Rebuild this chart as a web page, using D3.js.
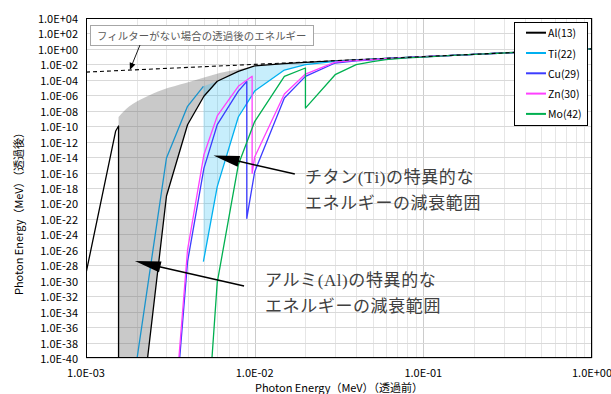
<!DOCTYPE html>
<html>
<head>
<meta charset="utf-8">
<script src="https://cdn.jsdelivr.net/npm/d3@7"></script>
<style>
body { margin: 0; background: #fff; }
</style>
</head>
<body>
<div id="graph"></div>
<script>
// tick labels (their numeric value is the tick position)
var yTickLabels = ["1.0E+04", "1.0E+02", "1.0E+00", "1.0E-02", "1.0E-04", "1.0E-06", "1.0E-08",
	"1.0E-10", "1.0E-12", "1.0E-14", "1.0E-16", "1.0E-18", "1.0E-20", "1.0E-22", "1.0E-24",
	"1.0E-26", "1.0E-28", "1.0E-30", "1.0E-32", "1.0E-34", "1.0E-36", "1.0E-38", "1.0E-40"];
var xTickLabels = ["1.0E-03", "1.0E-02", "1.0E-01", "1.0E+00"];

var names = ["Al(13)", "Ti(22)", "Cu(29)", "Zn(30)", "Mo(42)"];
var colors = ["#000000", "#00b0f0", "#3c3cff", "#ff40ff", "#00b050"];

// photon energy before (MeV) / after the filter (MeV)
var alE = [1e-3, 1.5e-3, 1.5596e-3, 1.5596e-3, 2e-3, 3e-3, 4e-3, 5e-3, 6e-3, 8e-3, 1e-2, 1.5e-2, 2e-2,
	3e-2, 4e-2, 5e-2, 6e-2, 8e-2, 1e-1, 1.5e-1, 2e-1, 3e-1, 4e-1, 5e-1, 6e-1, 8e-1, 1];
var alV = [9.1e-30, 2.4e-11, 1.05e-10, 1e-85, 1e-52, 9.1e-20, 1.55e-10, 7.4e-7, 6.5e-5, 1.26e-3, 6.3e-3, 1.26e-2, 1.82e-2,
	2.8e-2, 3.9e-2, 4.9e-2, 5.9e-2, 7.9e-2, 9.9e-2, 0.149, 0.199, 0.299, 0.399, 0.499, 0.599, 0.799, 0.999];

var tiPreE = [2e-3, 3e-3, 4e-3, 4.966e-3];
var tiPreV = [5e-41, 7.6e-15, 3.7e-8, 1.45e-5];
var tiPostE = [4.966e-3, 6e-3, 8e-3, 1e-2, 1.5e-2, 2e-2, 3e-2, 4e-2, 5e-2, 6e-2, 8e-2, 1e-1,
	1.5e-1, 2e-1, 3e-1, 4e-1, 5e-1, 6e-1, 8e-1, 1];
var tiPostV = [2.9e-28, 1.5e-18, 1.55e-9, 3.5e-6, 1.86e-3, 9.1e-3, 2.5e-2, 3.6e-2, 4.7e-2, 5.8e-2, 7.8e-2, 9.8e-2,
	0.148, 0.198, 0.298, 0.398, 0.498, 0.598, 0.798, 0.998];

var cuE = [3e-3, 4e-3, 5e-3, 6e-3, 8e-3, 8.979e-3, 8.979e-3, 1e-2, 1.5e-2, 2e-2, 3e-2, 4e-2, 5e-2, 6e-2, 8e-2, 1e-1,
	1.5e-1, 2e-1, 3e-1, 4e-1, 5e-1, 6e-1, 8e-1, 1];
var cuV = [1e-61, 2.9e-28, 3.5e-16, 1.55e-10, 3.5e-6, 6e-5, 1.2e-22, 1.26e-16, 4.5e-7, 2.8e-4, 1.5e-2, 2.75e-2, 3.8e-2, 5.2e-2, 7.4e-2, 9.5e-2,
	0.146, 0.196, 0.296, 0.396, 0.497, 0.597, 0.797, 0.997];

var znE = [3e-3, 4e-3, 5e-3, 6e-3, 8e-3, 9.659e-3, 9.659e-3, 1e-2, 1.5e-2, 2e-2, 3e-2, 4e-2, 5e-2, 6e-2, 8e-2, 1e-1,
	1.5e-1, 2e-1, 3e-1, 4e-1, 5e-1, 6e-1, 8e-1, 1];
var znV = [1e-60, 1e-26, 2e-14, 2.1e-9, 1.45e-5, 2.9e-4, 8e-17, 1e-14, 1.45e-6, 5.6e-4, 1.9e-2, 3.2e-2, 4.2e-2, 5.5e-2, 7.6e-2, 9.6e-2,
	0.146, 0.196, 0.296, 0.396, 0.497, 0.597, 0.797, 0.997];

var moE = [5e-3, 6e-3, 8e-3, 1e-2, 1.5e-2, 2e-2, 2e-2, 3e-2, 4e-2, 5e-2, 6e-2, 8e-2, 1e-1,
	1.5e-1, 2e-1, 3e-1, 4e-1, 5e-1, 6e-1, 8e-1, 1];
var moV = [1e-55, 6.3e-31, 1e-15, 4e-10, 2.8e-4, 3.4e-3, 2.2e-8, 4.6e-4, 9.1e-3, 2.3e-2, 4e-2, 6.8e-2, 8.9e-2,
	0.145, 0.195, 0.296, 0.396, 0.497, 0.597, 0.797, 0.998];

// upper edge of the grey (Al) band
var grayE = [1.5596e-3, 1.8e-3, 2.2e-3, 2.85e-3, 3.9e-3, 4.9e-3, 6.2e-3, 7.8e-3, 1e-2];
var grayV = [1.6e-9, 3.5e-8, 4.5e-7, 5.2e-6, 3.9e-5, 1.7e-4, 7.6e-4, 2.0e-3, 6.3e-3];

// no filter: after = before
var noFilterE = [1e-3, 1];
var noFilterV = [1e-3, 1];

var sans = "'Noto Sans CJK JP', sans-serif";

function zip(a, b){ return a.map(function(d, i){ return [d, b[i]]; }); }

var W = 611, H = 394,
	plot = {left: 86, right: 592, top: 18, bottom: 358};

var svg = d3.select("#graph").append("svg")
	.attr("width", W).attr("height", H)
	.style("font-family", sans);

svg.append("rect").attr("width", W).attr("height", H).attr("fill", "#fff");

var x = d3.scaleLog().domain([1e-3, 1]).range([plot.left, plot.right]),
	y = d3.scaleLog().domain([1e-40, 1e4]).range([plot.bottom, plot.top]);

svg.append("clipPath").attr("id", "clip")
	.append("rect")
	.attr("x", plot.left).attr("y", plot.top)
	.attr("width", plot.right - plot.left).attr("height", plot.bottom - plot.top);

// grid
var grid = svg.append("g");
var xt = x.ticks();
grid.selectAll(".vminor")
	.data(xt.filter(function(d){ return xTickLabels.map(Number).indexOf(d) < 0; }))
	.enter().append("line")
	.attr("x1", function(d){ return Math.round(x(d)) + 0.5; })
	.attr("x2", function(d){ return Math.round(x(d)) + 0.5; })
	.attr("y1", plot.top).attr("y2", plot.bottom)
	.attr("stroke", "#e6e6e6");
grid.selectAll(".vmajor")
	.data(xTickLabels.map(Number))
	.enter().append("line")
	.attr("x1", function(d){ return Math.round(x(d)) + 0.5; })
	.attr("x2", function(d){ return Math.round(x(d)) + 0.5; })
	.attr("y1", plot.top).attr("y2", plot.bottom)
	.attr("stroke", "#cccccc");
grid.selectAll(".hmajor")
	.data(yTickLabels.map(Number))
	.enter().append("line")
	.attr("x1", plot.left).attr("x2", plot.right)
	.attr("y1", function(d){ return Math.round(y(d)) + 0.5; })
	.attr("y2", function(d){ return Math.round(y(d)) + 0.5; })
	.attr("stroke", "#d9d9d9");

var chart = svg.append("g").attr("clip-path", "url(#clip)");

var line = d3.line()
	.x(function(d){ return x(d[0]); })
	.y(function(d){ return y(d[1]); });
var smooth = d3.line()
	.x(function(d){ return x(d[0]); })
	.y(function(d){ return y(d[1]); })
	.curve(d3.curveMonotoneX);

// grey band: smooth top edge, back along the Al curve above its K edge
var al = zip(alE, alV);
var alPost = al.slice(3).filter(function(d){ return d[0] <= 1e-2; });
var grayPath = smooth(zip(grayE, grayV)) + "L" +
	alPost.slice().reverse().map(function(d){ return x(d[0]) + "," + y(d[1]); }).join("L") + "Z";
chart.append("path")
	.attr("d", grayPath)
	.attr("fill", "rgb(100,100,100)")
	.attr("fill-opacity", 0.35);

// cyan band: Ti peak, along Al, back down the Ti curve above its K edge
var tiPre = zip(tiPreE, tiPreV), tiPost = zip(tiPostE, tiPostV);
var cyanTop = [tiPre[tiPre.length - 1]].concat(al.filter(function(d){ return d[0] >= 6e-3 && d[0] <= 3e-2; }));
var cyanBottom = tiPost.filter(function(d){ return d[0] <= 3e-2; }).reverse();
chart.append("path")
	.attr("d", line(cyanTop.concat(cyanBottom)) + "Z")
	.attr("fill", "rgb(0,176,240)")
	.attr("fill-opacity", 0.22);

var series = [
	{pts: al, color: colors[0]},
	{pts: tiPre, color: "#1a94cc"},
	{pts: tiPost, color: colors[1]},
	{pts: zip(cuE, cuV), color: colors[2]},
	{pts: zip(znE, znV), color: colors[3]},
	{pts: zip(moE, moV), color: colors[4]}
];
chart.selectAll(".curve")
	.data(series).enter()
	.append("path")
	.attr("d", function(d){ return line(d.pts); })
	.attr("fill", "none")
	.attr("stroke", function(d){ return d.color; })
	.attr("stroke-width", 1.3)
	.attr("stroke-linejoin", "round");

chart.append("path")
	.attr("d", line(zip(noFilterE, noFilterV)))
	.attr("fill", "none")
	.attr("stroke", "#000")
	.attr("stroke-width", 1.1)
	.attr("stroke-dasharray", "4,3");

// frame
svg.append("rect")
	.attr("x", plot.left + 0.5).attr("y", plot.top + 0.5)
	.attr("width", plot.right - plot.left - 1).attr("height", plot.bottom - plot.top - 1)
	.attr("fill", "none").attr("stroke", "#000");

// tick labels
svg.selectAll(".ylab")
	.data(yTickLabels).enter()
	.append("text")
	.attr("x", 78)
	.attr("y", function(d){ return y(+d); })
	.attr("text-anchor", "end")
	.attr("dominant-baseline", "central")
	.attr("font-size", 11)
	.text(function(d){ return d; });
svg.selectAll(".xlab")
	.data(xTickLabels).enter()
	.append("text")
	.attr("x", function(d){ return x(+d); })
	.attr("y", 372)
	.attr("text-anchor", "middle")
	.attr("dominant-baseline", "central")
	.attr("font-size", 11)
	.text(function(d){ return d; });

svg.append("text")
	.attr("x", (plot.left + plot.right) / 2).attr("y", 387)
	.attr("text-anchor", "middle").attr("dominant-baseline", "central")
	.attr("font-size", 11)
	.text("Photon Energy（MeV）（透過前）");
svg.append("text")
	.attr("transform", "translate(18,211) rotate(-90)")
	.attr("text-anchor", "middle").attr("dominant-baseline", "central")
	.attr("font-size", 11)
	.text("Photon Energy（MeV）（透過後）");

// legend
var legend = svg.append("g").attr("transform", "translate(514,22)");
legend.append("rect")
	.attr("x", 0.5).attr("y", 0.5).attr("width", 73).attr("height", 103)
	.attr("fill", "#fff").attr("stroke", "#000");
var item = legend.selectAll(".item")
	.data(names).enter()
	.append("g")
	.attr("transform", function(d, i){ return "translate(0," + (10.7 + i * 20.3) + ")"; });
item.append("line")
	.attr("x1", 12).attr("x2", 32)
	.attr("stroke", function(d, i){ return colors[i]; })
	.attr("stroke-width", 2);
item.append("text")
	.attr("x", 34)
	.attr("dominant-baseline", "central")
	.attr("font-size", 10.5)
	.text(function(d){ return d; });

// annotations
function arrow(g, from, to, len, half, width){
	var x0 = x(from[0]), y0 = y(from[1]), x1 = x(to[0]), y1 = y(to[1]);
	var dx = x1 - x0, dy = y1 - y0, L = Math.sqrt(dx * dx + dy * dy);
	var ux = dx / L, uy = dy / L;
	var bx = x1 - ux * len, by = y1 - uy * len;
	g.append("line")
		.attr("x1", x0).attr("y1", y0).attr("x2", bx + ux * 2).attr("y2", by + uy * 2)
		.attr("stroke", "#000").attr("stroke-width", width);
	g.append("path")
		.attr("d", "M" + x1 + "," + y1 + "L" + (bx - uy * half) + "," + (by + ux * half) +
			"L" + (bx + uy * half) + "," + (by - ux * half) + "Z")
		.attr("fill", "#000");
}

var notes = svg.append("g");
notes.append("rect")
	.attr("x", 90.5).attr("y", 25.5).attr("width", 223).attr("height", 20)
	.attr("fill", "#fff").attr("stroke", "#a6a6a6");
notes.append("text")
	.attr("x", 97).attr("y", 35.5)
	.attr("dominant-baseline", "central")
	.attr("font-size", 10.4)
	.attr("fill", "#595959")
	.attr("letter-spacing", 0.1)
	.text("フィルターがない場合の透過後のエネルギー");
arrow(notes, [2.09e-3, 3.2], [1.82e-3, 1.9e-3], 7, 3, 0.9);

arrow(notes, [1.73e-2, 6.5e-17], [5.7e-3, 1.6e-14], 26, 5.5, 1.5);
arrow(notes, [8.65e-3, 2.1e-31], [1.95e-3, 3.5e-28], 26, 5.5, 1.5);

var big = [
	{t: "チタン(Ti)の特異的な", x: 305, y: 177},
	{t: "エネルギーの減衰範囲", x: 305, y: 203},
	{t: "アルミ(Al)の特異的な", x: 265, y: 280},
	{t: "エネルギーの減衰範囲", x: 265, y: 306}
];
notes.selectAll(".big")
	.data(big).enter()
	.append("text")
	.attr("x", function(d){ return d.x; })
	.attr("y", function(d){ return d.y; })
	.attr("dominant-baseline", "central")
	.style("font-family", "'Liberation Serif', 'Noto Sans CJK JP', serif")
	.attr("font-size", 17)
	.attr("letter-spacing", 0.6)
	.attr("fill", "#404040")
	.text(function(d){ return d.t; });
</script>
</body>
</html>
